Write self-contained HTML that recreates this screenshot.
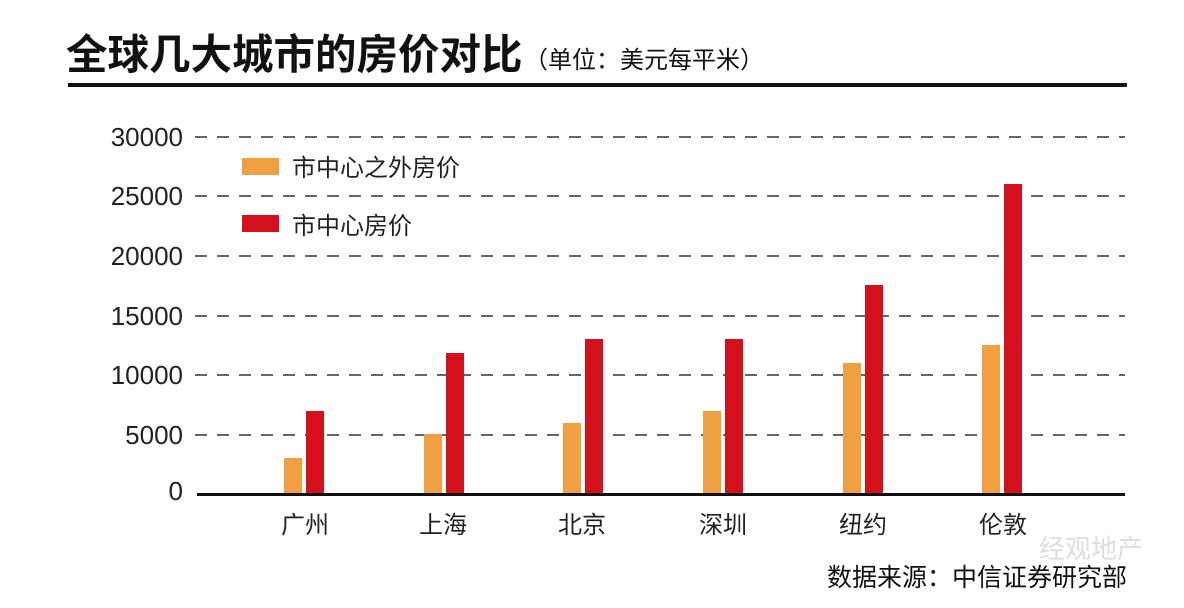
<!DOCTYPE html>
<html><head><meta charset="utf-8"><style>body{margin:0;background:#fff}svg{display:block}</style></head><body>
<svg width="1184" height="608" xmlns="http://www.w3.org/2000/svg" font-family="'Liberation Sans','Noto Sans CJK SC',sans-serif">
<rect width="1184" height="608" fill="#fff"/>
<text x="66" y="69" font-size="41.5" font-weight="bold" fill="#111">全球几大城市的房价对比</text>
<text x="524" y="68" font-size="24" fill="#111">（单位：美元每平米）</text>
<rect x="68" y="83" width="1059" height="4" fill="#111"/>
<g stroke="#333" stroke-width="1.5" stroke-dasharray="12 10">
<line x1="195" y1="137" x2="1125" y2="137"/>
<line x1="195" y1="196" x2="1125" y2="196"/>
<line x1="195" y1="256" x2="1125" y2="256"/>
<line x1="195" y1="316" x2="1125" y2="316"/>
<line x1="195" y1="375" x2="1125" y2="375"/>
<line x1="195" y1="435" x2="1125" y2="435"/>
</g>
<g font-size="26" fill="#222" text-anchor="end">
<text x="183" y="146">30000</text><text x="183" y="205">25000</text><text x="183" y="265">20000</text>
<text x="183" y="325">15000</text><text x="183" y="384">10000</text><text x="183" y="444">5000</text><text x="183" y="500">0</text>
</g>
<rect x="242" y="158" width="37" height="17" fill="#f0a040"/>
<text x="292" y="176" font-size="24" fill="#222">市中心之外房价</text>
<rect x="242" y="215" width="37" height="17" fill="#d4101c"/>
<text x="292" y="234" font-size="24" fill="#222">市中心房价</text>
<g fill="#f0a040">
<rect x="284" y="458" width="18" height="36"/>
<rect x="424" y="434" width="18" height="60"/>
<rect x="563" y="423" width="18" height="71"/>
<rect x="703" y="411" width="18" height="83"/>
<rect x="843" y="363" width="18" height="131"/>
<rect x="982" y="345" width="18" height="149"/>
</g>
<g fill="#d4101c">
<rect x="306" y="411" width="18" height="83"/>
<rect x="446" y="353" width="18" height="141"/>
<rect x="585" y="339" width="18" height="155"/>
<rect x="725" y="339" width="18" height="155"/>
<rect x="865" y="285" width="18" height="209"/>
<rect x="1004" y="184" width="18" height="310"/>
</g>
<rect x="197" y="493" width="928" height="3" fill="#111"/>
<g font-size="24" fill="#222" text-anchor="middle">
<text x="305" y="533">广州</text><text x="443" y="533">上海</text><text x="582" y="533">北京</text>
<text x="723" y="533">深圳</text><text x="863" y="533">纽约</text><text x="1003" y="533">伦敦</text>
</g>
<text x="1143" y="558" font-size="26" fill="#ddd" text-anchor="end">经观地产</text>
<text x="1127" y="586" font-size="25" fill="#111" text-anchor="end">数据来源：中信证券研究部</text>
</svg>
</body></html>
